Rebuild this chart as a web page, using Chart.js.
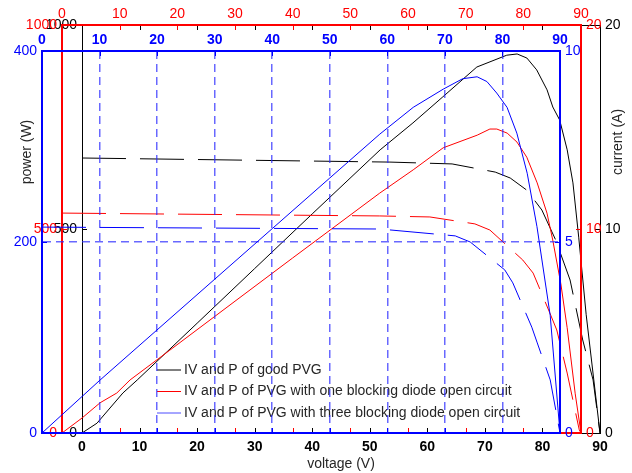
<!DOCTYPE html>
<html>
<head>
<meta charset="utf-8">
<script src="https://cdn.jsdelivr.net/npm/chart.js@4.4.1/dist/chart.umd.min.js"></script>
<style>
  html, body { margin: 0; padding: 0; background: #fff; }
  #wrap { position: relative; width: 632px; height: 473px; }
  #wrap canvas { position: absolute; left: 0; top: 0; }
</style>
</head>
<body>
<div id="wrap">
  <canvas id="goodChart" width="632" height="473"></canvas>
  <canvas id="oneChart" width="632" height="473"></canvas>
  <canvas id="threeChart" width="632" height="473"></canvas>
</div>
<script>
// good PVG (black axes: power 0..1000, current 0..20)
const goodPowerV = [0, 2.6, 7.1, 9.6, 20, 30, 40, 51.8, 57.5, 62.7, 68.6, 73.8, 75.6, 77.3, 79.0, 80.8, 81.8, 83.0, 84.3, 85.3, 86.3, 87.6, 90];
const goodPower = [0, 24, 98, 130, 269, 403, 537, 694, 760, 824, 897, 926, 929, 919, 890, 841, 799, 767, 694, 613, 480, 290, 0];
const goodCurrentV = [0, 53.5, 64.3, 71.8, 74.4, 77.3, 79.9, 82.3, 84.8, 87.0, 88.8, 90];
const goodCurrent = [13.48, 13.28, 13.19, 12.79, 12.5, 11.9, 10.93, 9.46, 7.5, 4.56, 2.6, 0];

// one blocking diode open circuit (red axes: power 0..1000, current 0..20)
const onePowerV = [0, 3.5, 6.6, 9.5, 11.8, 18.7, 30, 40, 55.1, 60.9, 66.1, 72.0, 74.2, 75.4, 77.2, 78.9, 80.6, 82.4, 84.1, 85.1, 86.5, 87.6, 89, 90];
const onePower = [0, 37, 74, 98, 130, 203, 323, 429, 588, 645, 699, 730, 745, 745, 735, 713, 676, 613, 539, 473, 366, 258, 96, 0];
const oneCurrentV = [0, 55.1, 63.8, 71.6, 74.2, 79.9, 81.7, 84.6, 85.8, 87.6, 89.7, 90];
const oneCurrent = [10.78, 10.64, 10.59, 10.25, 9.95, 8.48, 7.84, 5.88, 5.05, 2.94, 0.15, 0];

// three blocking diodes open circuit (blue axes: power 0..400, current 0..10)
const threePowerV = [0, 10.1, 30, 40, 50, 58.7, 64.5, 69.7, 73.1, 75.6, 77.3, 79.0, 80.8, 82.5, 84.3, 86.0, 88.3, 90];
const threePower = [0, 55.5, 161, 214, 267, 313, 341, 360, 371, 373, 368, 356, 341, 314, 272, 216, 123, 0];
const threeCurrentV = [0, 58.7, 71.8, 74.4, 80.4, 81.8, 85.1, 86.0, 88.3, 90];
const threeCurrent = [5.39, 5.34, 5.16, 5.0, 4.27, 3.93, 2.77, 2.38, 1.39, 0];

const legendLabels = [
  'IV and P of good PVG',
  'IV and P of PVG with one blocking diode open circuit',
  'IV and P of PVG with three blocking diode open circuit'
];
const legendColors = ['#000000', '#ff0000', '#4d4dff'];

const FONT = 'Liberation Sans, Arial, Helvetica, sans-serif';
const TXT = '#262626';

function pts(xs, ys) {
  return xs.map((x, i) => ({ x: x, y: ys[i] }));
}
function fix(px) {
  return s => { if (s.isHorizontal()) s.height = px; else s.width = px; };
}

// small inward tick marks, matlab style
const inwardTicks = {
  id: 'inwardTicks',
  beforeDatasetsDraw(chart) {
    const ctx = chart.ctx;
    const len = 5;
    Object.values(chart.scales).forEach(s => {
      ctx.save();
      ctx.strokeStyle = s.options.border.color;
      ctx.lineWidth = 1;
      s.ticks.forEach(t => {
        const p = Math.round(s.getPixelForValue(t.value)) + 0.5;
        ctx.beginPath();
        if (s.position === 'bottom') { ctx.moveTo(p, s.top); ctx.lineTo(p, s.top - len); }
        else if (s.position === 'top') { ctx.moveTo(p, s.bottom); ctx.lineTo(p, s.bottom + len); }
        else if (s.position === 'left') { ctx.moveTo(s.right, p); ctx.lineTo(s.right + len, p); }
        else { ctx.moveTo(s.left, p); ctx.lineTo(s.left - len, p); }
        ctx.stroke();
      });
      ctx.restore();
    });
  }
};

// legend + side titles for the black axes
const decorations = {
  id: 'decorations',
  afterDraw(chart) {
    const ctx = chart.ctx;
    const a = chart.chartArea;
    ctx.save();
    ctx.font = '14px ' + FONT;
    ctx.textBaseline = 'middle';
    legendLabels.forEach((lab, i) => {
      const y = a.top + 345 + i * 21.5;
      ctx.strokeStyle = legendColors[i];
      ctx.lineWidth = 1;
      ctx.beginPath();
      ctx.moveTo(a.left + 75, y);
      ctx.lineTo(a.left + 99, y);
      ctx.stroke();
      ctx.fillStyle = TXT;
      ctx.textAlign = 'left';
      ctx.fillText(lab, a.left + 102, y);
    });
    ctx.textAlign = 'center';
    ctx.save();
    ctx.translate(27, 152);
    ctx.rotate(-Math.PI / 2);
    ctx.fillText('power (W)', 0, 0);
    ctx.restore();
    ctx.save();
    ctx.translate(618, 142);
    ctx.rotate(-Math.PI / 2);
    ctx.fillText('current (A)', 0, 0);
    ctx.restore();
    ctx.restore();
  }
};

const plain = v => String(v);

function xScale(color, pos, size, showLabels, pad, width, bold, extra) {
  return Object.assign({
    type: 'linear', position: pos, min: 0, max: 90,
    afterFit: fix(size),
    grid: { display: false, drawTicks: false },
    border: { color: color, width: width },
    ticks: { stepSize: 10, display: showLabels, color: color, padding: pad, maxRotation: 0,
             callback: plain, font: { family: FONT, size: 14, weight: bold ? 'bold' : 'normal' } }
  }, extra || {});
}
function yScale(color, pos, size, max, step, width, extra) {
  return Object.assign({
    type: 'linear', position: pos, min: 0, max: max,
    afterFit: fix(size),
    grid: { display: false, drawTicks: false },
    border: { color: color, width: width },
    ticks: { stepSize: step, color: color, padding: 5, callback: plain,
             font: { family: FONT, size: 14 } }
  }, extra || {});
}

const baseOptions = {
  responsive: false,
  animation: false,
  layout: { padding: 0 },
  elements: { point: { radius: 0 }, line: { tension: 0, borderWidth: 1 } },
  plugins: { legend: { display: false }, tooltip: { enabled: false } }
};

new Chart(document.getElementById('goodChart'), {
  type: 'line',
  data: {
    datasets: [
      { data: pts(goodPowerV, goodPower), borderColor: '#000', xAxisID: 'x', yAxisID: 'y' },
      { data: pts(goodCurrentV, goodCurrent), borderColor: '#000', borderDash: [44, 14], xAxisID: 'x', yAxisID: 'y2' }
    ]
  },
  options: Object.assign({}, baseOptions, {
    scales: {
      x: xScale('#000', 'bottom', 40, true, 6, 1, true, {
        title: { display: true, text: 'voltage (V)', color: TXT, padding: { top: 0, bottom: 0 },
                 font: { family: FONT, size: 14 } }
      }),
      x2: xScale('#000', 'top', 25, false, 0, 1, false),
      y: yScale('#000', 'left', 82, 1000, 500, 1),
      y2: yScale('#000', 'right', 32, 20, 10, 1)
    }
  }),
  plugins: [inwardTicks, decorations]
});

new Chart(document.getElementById('oneChart'), {
  type: 'line',
  data: {
    datasets: [
      { data: pts(onePowerV, onePower), borderColor: '#ff0000', xAxisID: 'x', yAxisID: 'y' },
      { data: pts(oneCurrentV, oneCurrent), borderColor: '#ff0000', borderDash: [44, 14], xAxisID: 'x', yAxisID: 'y2' }
    ]
  },
  options: Object.assign({}, baseOptions, {
    scales: {
      x: xScale('#ff0000', 'bottom', 40, false, 0, 2, false),
      x2: xScale('#ff0000', 'top', 25, true, 2, 2, false),
      y: yScale('#ff0000', 'left', 62, 1000, 500, 2),
      y2: yScale('#ff0000', 'right', 51, 20, 10, 2)
    }
  }),
  plugins: [inwardTicks]
});

const gridBlue = 'rgba(40, 40, 255, 0.7)';
new Chart(document.getElementById('threeChart'), {
  type: 'line',
  data: {
    datasets: [
      { data: pts(threePowerV, threePower), borderColor: '#0000ff', xAxisID: 'x', yAxisID: 'y' },
      { data: pts(threeCurrentV, threeCurrent), borderColor: '#0000ff', borderDash: [44, 14], xAxisID: 'x', yAxisID: 'y2' }
    ]
  },
  options: Object.assign({}, baseOptions, {
    scales: {
      x: xScale('#0000ff', 'bottom', 40, false, 0, 2, false, {
        grid: { display: true, drawTicks: false, lineWidth: 1.5,
                color: c => (c.tick && (c.tick.value === 0 || c.tick.value === 90)) ? 'rgba(0,0,0,0)' : gridBlue },
        border: { color: '#0000ff', width: 2, dash: [8, 5] }
      }),
      x2: xScale('#0000ff', 'top', 51, true, 2, 2, true),
      y: yScale('#0000ff', 'left', 42, 400, 200, 2, {
        grid: { display: true, drawTicks: false, lineWidth: 1.5,
                color: c => (c.tick && (c.tick.value === 0 || c.tick.value === 400)) ? 'rgba(0,0,0,0)' : gridBlue },
        border: { color: '#0000ff', width: 2, dash: [8, 5] }
      }),
      y2: yScale('#0000ff', 'right', 72, 10, 5, 2)
    }
  }),
  plugins: [inwardTicks]
});
</script>
</body>
</html>
